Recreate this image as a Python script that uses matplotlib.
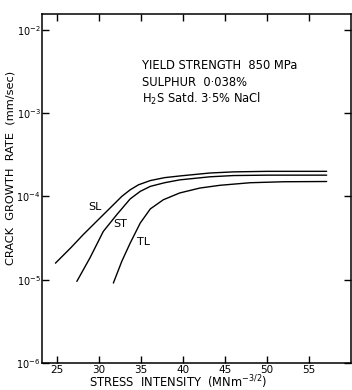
import matplotlib
matplotlib.use("Agg")
import matplotlib.pyplot as plt
from matplotlib.ticker import FixedLocator, NullLocator, FixedFormatter

# Data (stress intensity in MNm^-3/2, crack growth rate in mm/sec)
sl_k = [24.8, 26.6, 28.1, 30.1, 31.7, 32.7, 33.7, 34.7, 36.1, 37.8, 39.6, 43.2, 46.0, 50.0, 57.1]
sl_rate = [1.58e-5, 2.40e-5, 3.47e-5, 5.50e-5, 7.94e-5, 1.00e-4, 1.20e-4, 1.38e-4, 1.55e-4,
           1.68e-4, 1.76e-4, 1.91e-4, 1.97e-4, 2.00e-4, 2.00e-4]

st_k = [27.35, 28.9, 30.5, 32.1, 33.7, 34.9, 36.1, 37.8, 39.6, 43.2, 46.0, 50.0, 57.1]
st_rate = [9.55e-6, 1.82e-5, 3.80e-5, 6.03e-5, 9.33e-5, 1.15e-4, 1.32e-4, 1.46e-4, 1.58e-4,
           1.72e-4, 1.78e-4, 1.80e-4, 1.80e-4]

tl_k = [31.7, 32.7, 33.7, 34.9, 36.1, 37.65, 39.6, 42.0, 44.4, 48.0, 52.0, 57.1]
tl_rate = [9.12e-6, 1.66e-5, 2.75e-5, 4.79e-5, 7.08e-5, 9.12e-5, 1.10e-4, 1.26e-4, 1.36e-4,
           1.46e-4, 1.50e-4, 1.51e-4]

curve_names = ["SL", "ST", "TL"]
label_k = [29.5, 32.5, 35.3]
label_rate = [7.4e-5, 4.7e-5, 2.8e-5]

x_ticks = [25, 30, 35, 40, 45, 50, 55]
x_tick_labels = ["25", "30", "35", "40", "45", "50", "55"]
y_ticks = [1e-6, 1e-5, 1e-4, 1e-3, 1e-2]
y_tick_labels = [r"$10^{-6}$", r"$10^{-5}$", r"$10^{-4}$", r"$10^{-3}$", r"$10^{-2}$"]

notes = ["YIELD STRENGTH  850 MPa", "SULPHUR  0\u00b7038%", "H$_2$S Satd. 3\u00b75% NaCl"]

fig = plt.figure(figsize=(3.52, 3.90), dpi=100)
ax = fig.add_axes([42/352, 1-363/390, 309/352, 349/390])

for k, r in [(sl_k, sl_rate), (st_k, st_rate), (tl_k, tl_rate)]:
    ax.plot(k, r, color="black", lw=1.0, solid_capstyle="round", solid_joinstyle="round")

for name, k, r in zip(curve_names, label_k, label_rate):
    ax.text(k, r, name, fontsize=8, ha="center", va="center")

ax.set_yscale("log")
ax.set_xlim(23.2, 60.0)
ax.set_ylim(1e-6, 10**-1.81)

ax.xaxis.set_major_locator(FixedLocator(x_ticks))
ax.xaxis.set_major_formatter(FixedFormatter(x_tick_labels))
ax.xaxis.set_minor_locator(NullLocator())
ax.yaxis.set_major_locator(FixedLocator(y_ticks))
ax.yaxis.set_major_formatter(FixedFormatter(y_tick_labels))
ax.yaxis.set_minor_locator(NullLocator())

ax.tick_params(direction="in", length=5, width=1.0, top=True, right=True)
ax.tick_params(axis="x", labelsize=7.5, pad=1.5)
ax.tick_params(axis="y", labelsize=7, pad=1)
for s in ax.spines.values():
    s.set_linewidth(1.1)

y0 = 65.7
for i, t in enumerate(notes):
    fig.text(142/352, 1-(y0 + i*16.8)/390, t, fontsize=8.3, ha="left", va="center")

fig.text(11/352, 1-168/390, "CRACK  GROWTH  RATE  (mm/sec)", rotation=90,
         fontsize=8.2, ha="center", va="center")
fig.text(178/352, 1-387.5/390, "STRESS  INTENSITY  (MNm$^{-3/2}$)",
         fontsize=8.3, ha="center", va="baseline")

fig.savefig("out.png", dpi=100)
